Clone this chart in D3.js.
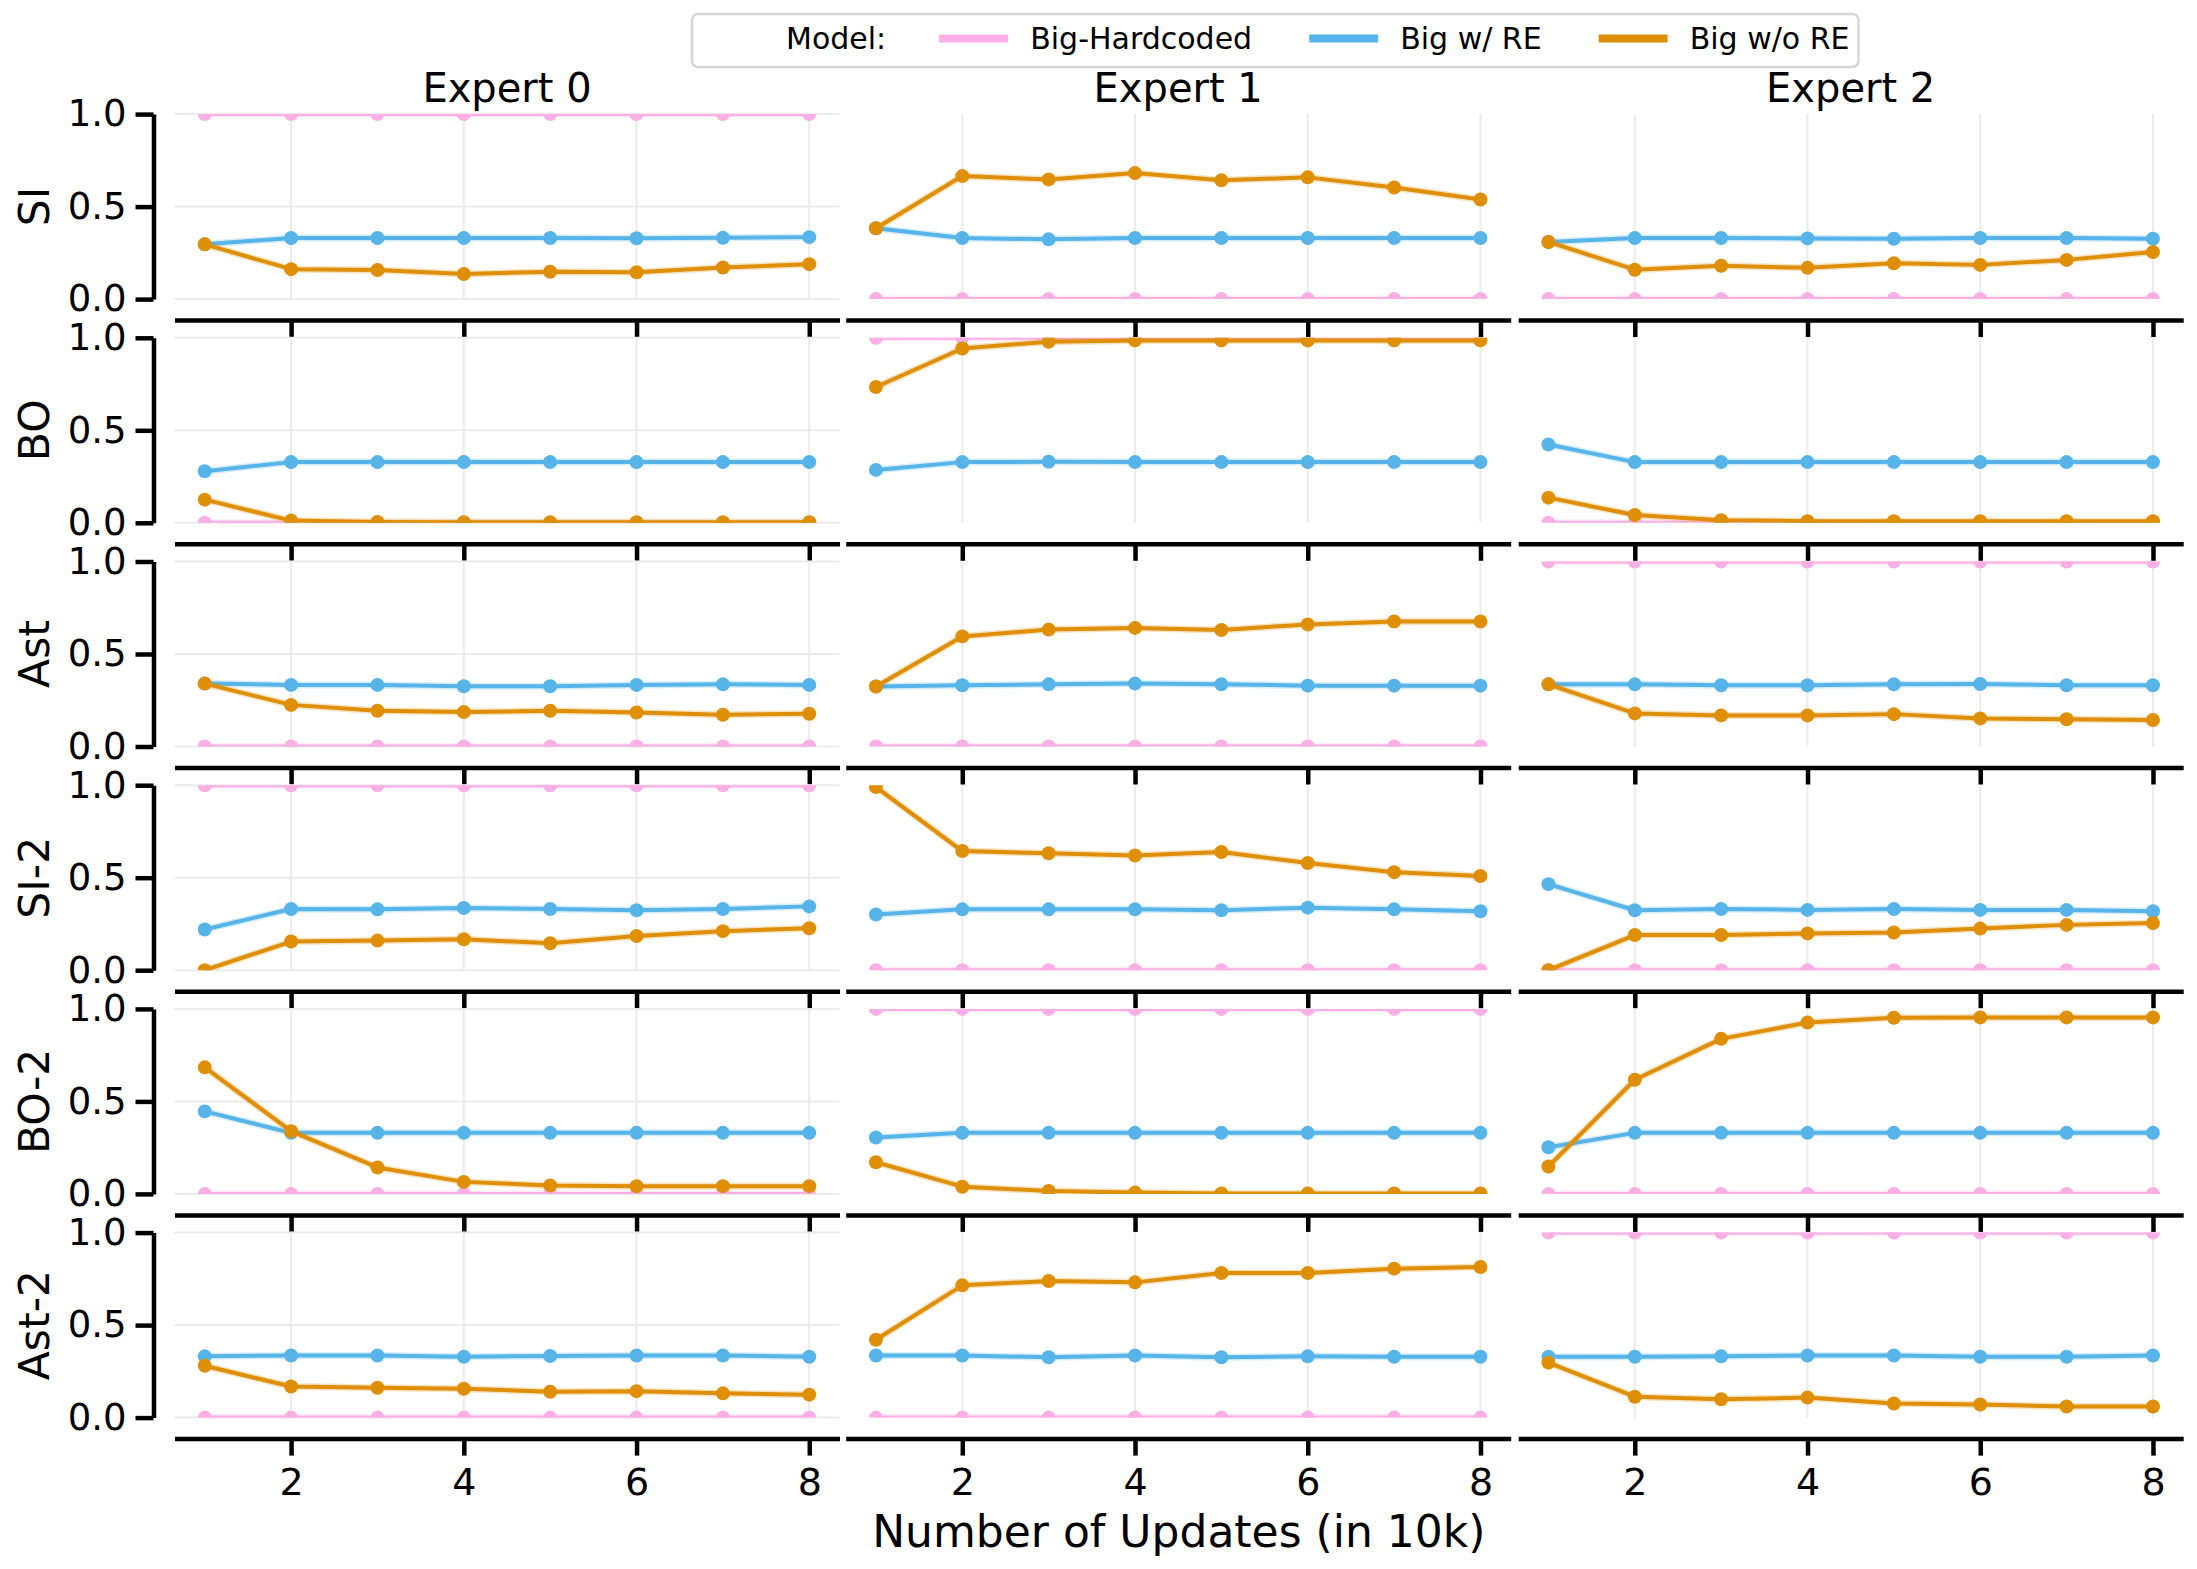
<!DOCTYPE html>
<html>
<head>
<meta charset="utf-8">
<script src="https://cdn.jsdelivr.net/npm/d3@7"></script>
<style>
  body { margin: 0; background: #fff; }
  text { font-family: "DejaVu Sans", sans-serif; fill: #000; }
</style>
</head>
<body>
<div id="chart"></div>
<script>
const experts = ['Expert 0', 'Expert 1', 'Expert 2'];
const tasks = ['SI', 'BO', 'Ast', 'SI-2', 'BO-2', 'Ast-2'];
const updates = [1, 2, 3, 4, 5, 6, 7, 8];
const models = ['Big-Hardcoded', 'Big w/ RE', 'Big w/o RE'];
const colors = ['#FBAFE4', '#56B4E9', '#DE8F05'];

// [task][expert] -> one value per update
const bigHardcoded = [
  [[1,1,1,1,1,1,1,1], [0,0,0,0,0,0,0,0], [0,0,0,0,0,0,0,0]],
  [[0,0,0,0,0,0,0,0], [1,1,1,1,1,1,1,1], [0,0,0,0,0,0,0,0]],
  [[0,0,0,0,0,0,0,0], [0,0,0,0,0,0,0,0], [1,1,1,1,1,1,1,1]],
  [[1,1,1,1,1,1,1,1], [0,0,0,0,0,0,0,0], [0,0,0,0,0,0,0,0]],
  [[0,0,0,0,0,0,0,0], [1,1,1,1,1,1,1,1], [0,0,0,0,0,0,0,0]],
  [[0,0,0,0,0,0,0,0], [0,0,0,0,0,0,0,0], [1,1,1,1,1,1,1,1]]
];

const bigWithRE = [
  [[0.296, 0.330, 0.330, 0.330, 0.330, 0.329, 0.331, 0.335],
   [0.383, 0.330, 0.323, 0.330, 0.330, 0.330, 0.330, 0.330],
   [0.309, 0.330, 0.330, 0.328, 0.326, 0.330, 0.330, 0.326]],
  [[0.279, 0.328, 0.328, 0.328, 0.328, 0.328, 0.328, 0.328],
   [0.286, 0.328, 0.330, 0.328, 0.328, 0.328, 0.328, 0.328],
   [0.423, 0.328, 0.328, 0.328, 0.328, 0.328, 0.328, 0.328]],
  [[0.340, 0.333, 0.333, 0.326, 0.326, 0.333, 0.336, 0.333],
   [0.324, 0.331, 0.336, 0.340, 0.336, 0.329, 0.329, 0.329],
   [0.336, 0.336, 0.331, 0.331, 0.336, 0.338, 0.331, 0.331]],
  [[0.220, 0.331, 0.329, 0.336, 0.331, 0.324, 0.331, 0.345],
   [0.301, 0.329, 0.329, 0.329, 0.324, 0.338, 0.329, 0.319],
   [0.465, 0.324, 0.331, 0.326, 0.331, 0.326, 0.326, 0.319]],
  [[0.446, 0.330, 0.330, 0.330, 0.330, 0.330, 0.330, 0.330],
   [0.305, 0.330, 0.330, 0.330, 0.330, 0.330, 0.330, 0.330],
   [0.252, 0.330, 0.330, 0.330, 0.330, 0.330, 0.330, 0.330]],
  [[0.331, 0.336, 0.336, 0.329, 0.333, 0.336, 0.336, 0.329],
   [0.336, 0.336, 0.326, 0.336, 0.326, 0.331, 0.329, 0.329],
   [0.329, 0.329, 0.331, 0.336, 0.336, 0.329, 0.329, 0.336]]
];

const bigWithoutRE = [
  [[0.296, 0.162, 0.157, 0.136, 0.148, 0.145, 0.171, 0.189],
   [0.383, 0.665, 0.647, 0.681, 0.642, 0.658, 0.603, 0.538],
   [0.309, 0.159, 0.180, 0.169, 0.194, 0.185, 0.212, 0.254]],
  [[0.125, 0.012, 0.004, 0.003, 0.003, 0.003, 0.003, 0.003],
   [0.734, 0.942, 0.979, 0.986, 0.986, 0.986, 0.986, 0.986],
   [0.136, 0.042, 0.014, 0.009, 0.009, 0.009, 0.009, 0.009]],
  [[0.340, 0.225, 0.193, 0.186, 0.193, 0.184, 0.172, 0.177],
   [0.324, 0.595, 0.632, 0.641, 0.630, 0.660, 0.676, 0.676],
   [0.336, 0.179, 0.168, 0.168, 0.175, 0.152, 0.147, 0.143]],
  [[0.000, 0.155, 0.160, 0.167, 0.146, 0.185, 0.211, 0.227],
   [0.990, 0.644, 0.632, 0.620, 0.639, 0.579, 0.530, 0.509],
   [0.000, 0.190, 0.190, 0.199, 0.204, 0.225, 0.245, 0.255]],
  [[0.684, 0.339, 0.143, 0.065, 0.046, 0.042, 0.042, 0.042],
   [0.171, 0.039, 0.016, 0.007, 0.002, 0.002, 0.002, 0.002],
   [0.148, 0.617, 0.838, 0.926, 0.952, 0.954, 0.954, 0.954]],
  [[0.280, 0.168, 0.161, 0.156, 0.140, 0.143, 0.131, 0.124],
   [0.421, 0.715, 0.738, 0.731, 0.782, 0.782, 0.805, 0.814],
   [0.297, 0.113, 0.099, 0.108, 0.076, 0.071, 0.060, 0.060]]
];

const series = [bigHardcoded, bigWithRE, bigWithoutRE];

const W = 2197, H = 1569;
const colLeft = [174.5, 845.7, 1518.2];
const panelW = 665, panelH = 185;
const rowTop = 114.1, rowStep = 223.7;
const offset = 21;

const x = d3.scaleLinear().domain([0.65, 8.35]).range([0, panelW]);
const y = d3.scaleLinear().domain([0, 1]).range([panelH, 0]);

const svg = d3.select('#chart')
  .append('svg')
  .attr('width', W)
  .attr('height', H);

svg.append('rect').attr('width', W).attr('height', H).attr('fill', '#fff');

const line = d3.line()
  .x((d, i) => x(updates[i]))
  .y(d => y(d));

tasks.forEach((task, r) => {
  experts.forEach((expert, c) => {
    const g = svg.append('g')
      .attr('transform', `translate(${colLeft[c]},${rowTop + r * rowStep})`);

    // grid
    g.append('g').selectAll('line')
      .data([2, 4, 6, 8])
      .join('line')
      .attr('x1', d => x(d)).attr('x2', d => x(d))
      .attr('y1', 0).attr('y2', panelH)
      .attr('stroke', '#ebebeb').attr('stroke-width', 2);
    if (c === 0) {
      g.append('g').selectAll('line')
        .data([0, 0.5, 1])
        .join('line')
        .attr('x1', 0).attr('x2', panelW)
        .attr('y1', d => y(d)).attr('y2', d => y(d))
        .attr('stroke', '#ebebeb').attr('stroke-width', 2);
    }

    const clipId = `clip-${r}-${c}`;
    g.append('clipPath').attr('id', clipId)
      .append('rect').attr('width', panelW).attr('height', panelH);

    const plot = g.append('g').attr('clip-path', `url(#${clipId})`);

    series.forEach((s, k) => {
      const vals = s[r][c];
      // faint band, like the narrow error band under each line
      plot.append('path')
        .attr('d', line(vals))
        .attr('fill', 'none')
        .attr('stroke', colors[k])
        .attr('stroke-opacity', 0.25)
        .attr('stroke-width', 7)
        .attr('stroke-linejoin', 'round');
      plot.append('path')
        .attr('d', line(vals))
        .attr('fill', 'none')
        .attr('stroke', colors[k])
        .attr('stroke-width', 4)
        .attr('stroke-linejoin', 'round');
      plot.append('g').selectAll('circle')
        .data(vals)
        .join('circle')
        .attr('cx', (d, i) => x(updates[i]))
        .attr('cy', d => y(d))
        .attr('r', 7)
        .attr('fill', colors[k]);
    });

    // bottom axis, offset
    const xAxis = d3.axisBottom(x)
      .tickValues([2, 4, 6, 8])
      .tickSize(17)
      .tickSizeOuter(0)
      .tickPadding(12)
      .tickFormat(r === tasks.length - 1 ? d3.format('d') : '');
    const xa = g.append('g')
      .attr('transform', `translate(0,${panelH + offset})`)
      .call(xAxis);
    xa.select('.domain').attr('stroke', '#000').attr('stroke-width', 4.5);
    xa.selectAll('.tick line').attr('stroke', '#000').attr('stroke-width', 4.5);
    xa.selectAll('text')
      .attr('font-size', 38)
      .attr('font-family', '"DejaVu Sans", sans-serif');

    if (c === 0) {
      const yAxis = d3.axisLeft(y)
        .tickValues([0, 0.5, 1])
        .tickSize(18)
        .tickSizeOuter(0)
        .tickPadding(9)
        .tickFormat(d3.format('.1f'));
      const ya = g.append('g')
        .attr('transform', `translate(${-offset},0)`)
        .call(yAxis);
      ya.select('.domain').attr('stroke', '#000').attr('stroke-width', 4.5);
      ya.selectAll('.tick line').attr('stroke', '#000').attr('stroke-width', 4.5);
      ya.selectAll('text')
        .attr('font-size', 37)
        .attr('font-family', '"DejaVu Sans", sans-serif');

      g.append('text')
        .attr('transform', `translate(${49 - colLeft[0]},${panelH / 2}) rotate(-90)`)
        .attr('text-anchor', 'middle')
        .attr('font-size', 42.5)
        .text(task);
    }

    if (r === 0) {
      g.append('text')
        .attr('x', panelW / 2)
        .attr('y', 102 - rowTop)
        .attr('text-anchor', 'middle')
        .attr('font-size', 40)
        .text(expert);
    }
  });
});

// x axis label
svg.append('text')
  .attr('x', (colLeft[0] + colLeft[2] + panelW) / 2)
  .attr('y', 1547)
  .attr('text-anchor', 'middle')
  .attr('font-size', 44)
  .text('Number of Updates (in 10k)');

// legend
const legend = svg.append('g');
const legendBox = legend.append('rect')
  .attr('x', 692).attr('y', 14)
  .attr('height', 53)
  .attr('rx', 6)
  .attr('fill', '#fff')
  .attr('stroke', '#d6d6d6')
  .attr('stroke-width', 2.5);

const legendY = 38.5;
let lx = 786;
const title = legend.append('text')
  .attr('x', lx).attr('y', legendY)
  .attr('dominant-baseline', 'central')
  .attr('font-size', 30)
  .text('Model:');
lx += title.node().getComputedTextLength() + 53;

models.forEach((m, k) => {
  legend.append('line')
    .attr('x1', lx).attr('x2', lx + 69)
    .attr('y1', legendY).attr('y2', legendY)
    .attr('stroke', colors[k])
    .attr('stroke-width', 8);
  const t = legend.append('text')
    .attr('x', lx + 91).attr('y', legendY)
    .attr('dominant-baseline', 'central')
    .attr('font-size', 30)
    .text(m);
  lx += 91 + t.node().getComputedTextLength() + 57;
});
legendBox.attr('width', lx - 57 + 9 - 692);
</script>
</body>
</html>
